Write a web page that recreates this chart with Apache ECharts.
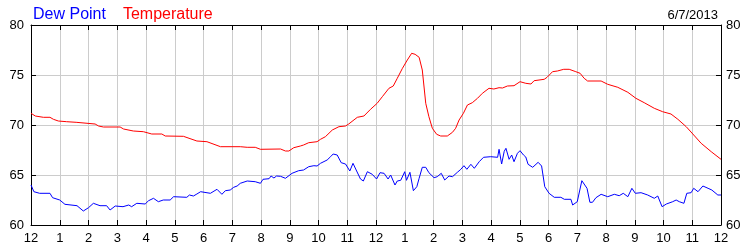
<!DOCTYPE html>
<html>
<head>
<meta charset="utf-8">
<script src="https://cdn.jsdelivr.net/npm/echarts@6/dist/echarts.min.js"></script>
<style>html,body{margin:0;padding:0;background:#fff}#c{width:750px;height:250px}</style>
</head>
<body>
<div id="c"></div>
<script>
var xTickLabels = ['12','1','2','3','4','5','6','7','8','9','10','11','12','1','2','3','4','5','6','7','8','9','10','11','12'];
var yTicks = [60, 65, 70, 75, 80];
var dateLabel = '6/7/2013';

var tempHours = [0,0.15,0.43,0.66,0.78,0.95,1.24,1.57,1.62,2.23,2.35,2.52,3.1,3.22,3.56,3.91,4.2,4.55,4.67,5.3,5.77,6.12,6.59,7.28,7.52,7.8,7.98,8.68,8.85,8.97,9.14,9.37,9.48,9.66,9.95,10.07,10.24,10.48,10.71,10.94,11.05,11.35,11.58,11.81,12.04,12.22,12.45,12.6,12.74,12.92,13.09,13.24,13.36,13.5,13.61,13.73,13.84,13.96,14.11,14.25,14.48,14.66,14.77,14.89,15.04,15.18,15.35,15.53,15.7,15.93,16.1,16.28,16.4,16.57,16.8,17.01,17.21,17.39,17.5,17.85,17.95,18.14,18.31,18.53,18.72,18.95,19.1,19.24,19.36,19.83,20.06,20.41,20.76,21.04,21.33,21.68,21.97,22.26,22.5,22.79,23.02,23.31,23.66,24];
var tempValues = [71.17,70.9,70.77,70.77,70.57,70.4,70.33,70.27,70.1,70.1,69.9,69.8,69.8,69.6,69.4,69.33,69.1,69.1,68.9,68.87,68.4,68.33,67.83,67.83,67.77,67.77,67.57,67.6,67.4,67.4,67.73,67.9,68.0,68.23,68.33,68.57,68.83,69.5,69.83,69.9,70.1,70.77,70.9,71.57,72.17,72.83,73.67,73.9,74.67,75.67,76.5,77.17,77.07,76.77,75.5,72.17,70.83,69.67,69.07,68.9,68.9,69.27,69.67,70.5,71.17,72.0,72.23,72.67,73.17,73.67,73.6,73.73,73.7,73.9,73.93,74.33,74.17,74.1,74.43,74.57,74.77,75.33,75.4,75.57,75.57,75.33,75.17,74.67,74.4,74.4,74.07,73.77,73.27,72.67,72.23,71.67,71.33,71.1,70.57,69.83,69.1,68.17,67.33,66.57];

var dewHours = [0,0.1,0.3,0.66,0.75,1.0,1.18,1.6,1.82,2.0,2.17,2.4,2.63,2.75,2.93,3.2,3.4,3.5,3.68,3.97,4.09,4.26,4.43,4.6,4.84,4.96,5.42,5.51,5.65,5.77,5.9,6.24,6.47,6.64,6.76,6.93,7.05,7.17,7.28,7.52,7.8,7.98,8.07,8.28,8.35,8.45,8.54,8.68,8.85,9.08,9.31,9.48,9.66,9.84,9.95,10.07,10.3,10.42,10.51,10.65,10.79,10.94,11.09,11.2,11.31,11.46,11.56,11.7,11.87,12.02,12.14,12.28,12.42,12.51,12.66,12.74,12.86,13.0,13.06,13.18,13.3,13.42,13.5,13.61,13.73,13.84,14.02,14.13,14.27,14.39,14.54,14.66,14.83,14.95,15.06,15.16,15.3,15.42,15.59,15.74,15.99,16.23,16.28,16.37,16.46,16.52,16.63,16.72,16.8,16.92,17.01,17.13,17.21,17.29,17.45,17.64,17.76,17.87,18.02,18.2,18.43,18.55,18.78,18.84,19.0,19.16,19.34,19.44,19.53,19.65,19.83,20.06,20.29,20.46,20.6,20.76,20.9,21.02,21.22,21.45,21.68,21.8,21.95,22.1,22.32,22.44,22.55,22.71,22.81,22.96,23.05,23.2,23.37,23.55,23.68,23.89,24];
var dewValues = [64.0,63.33,63.17,63.17,62.73,62.5,62.07,61.93,61.4,61.73,62.17,61.93,61.93,61.5,61.9,61.83,62.0,61.83,62.17,62.1,62.43,62.67,62.33,62.5,62.5,62.83,62.77,63.0,62.9,63.1,63.33,63.17,63.57,63.07,63.43,63.5,63.77,63.9,64.17,64.4,64.33,64.17,64.57,64.63,64.9,64.7,64.9,64.87,64.67,65.17,65.43,65.5,65.83,65.93,65.9,66.17,66.5,66.83,67.1,67.0,66.23,66.1,65.4,66.17,65.5,64.6,64.4,65.33,65.07,64.6,65.23,65.17,64.6,65.0,64.0,64.4,64.47,65.33,64.47,65.27,63.43,63.83,64.67,65.77,65.77,65.23,64.73,64.83,65.17,64.5,64.9,64.83,65.27,65.57,65.93,65.57,66.07,65.67,66.33,66.77,66.83,66.77,67.57,66.1,67.37,67.67,66.57,67.0,66.33,67.17,67.43,67.0,66.8,66.07,65.77,66.27,65.9,63.83,63.17,62.77,62.77,62.57,62.57,62.0,62.33,64.43,63.67,62.27,62.27,62.73,63.07,62.83,63.07,62.93,63.17,62.83,63.67,63.17,63.23,63.0,62.67,62.9,61.83,62.1,62.33,62.5,62.33,62.17,63.17,63.23,63.67,63.33,63.9,63.67,63.5,63.0,63.0];

function zip(a, b) { return a.map(function (v, i) { return [v, b[i]]; }); }

var FONT = 'Liberation Sans, Arial, sans-serif';
var yMin = yTicks[0], yMax = yTicks[yTicks.length - 1], yStep = yTicks[1] - yTicks[0];

function xAxisCfg(pos, labels, split) {
  return {
    type: 'value', min: 0, max: xTickLabels.length - 1, interval: 1, position: pos,
    axisLine: { show: true, onZero: false, lineStyle: { color: '#000', width: 1 } },
    axisTick: { show: true, inside: true, length: 5, lineStyle: { color: '#000' } },
    axisLabel: { show: labels, margin: 7, color: '#000', fontSize: 13, fontFamily: FONT,
      formatter: function (v) { return xTickLabels[Math.round(v)]; } },
    splitLine: { show: split, lineStyle: { color: '#cccccc', width: 1 } }
  };
}
function yAxisCfg(pos, split, margin) {
  return {
    type: 'value', min: yMin, max: yMax, interval: yStep, position: pos,
    axisLine: { show: true, onZero: false, lineStyle: { color: '#000', width: 1 } },
    axisTick: { show: true, inside: true, length: 5, lineStyle: { color: '#000' } },
    axisLabel: { show: true, margin: margin, color: '#000', fontSize: 13, fontFamily: FONT },
    splitLine: { show: split, lineStyle: { color: '#cccccc', width: 1 } }
  };
}

var chart = echarts.init(document.getElementById('c'), null, { renderer: 'canvas' });
chart.setOption({
  animation: false,
  backgroundColor: '#fff',
  title: {
    text: dateLabel, right: 27, top: 4,
    textStyle: { fontSize: 13, fontWeight: 'normal', color: '#000', fontFamily: FONT }
  },
  legend: {
    left: 23, top: 2, itemWidth: 0, itemHeight: 0, itemGap: 12, icon: 'rect',
    textStyle: { fontSize: 16, fontFamily: FONT },
    data: [
      { name: 'Dew Point', textStyle: { color: '#0000ff' } },
      { name: 'Temperature', textStyle: { color: '#ff0000' } }
    ]
  },
  grid: { left: 31, right: 29, top: 25, bottom: 25, containLabel: false },
  xAxis: [xAxisCfg('bottom', true, true), xAxisCfg('top', false, false)],
  yAxis: [yAxisCfg('left', true, 7), yAxisCfg('right', false, 5)],
  series: [
    { name: 'Dew Point', type: 'line', xAxisIndex: 0, yAxisIndex: 0, showSymbol: false,
      data: zip(dewHours, dewValues), lineStyle: { color: '#0000ff', width: 1 }, itemStyle: { color: '#0000ff' } },
    { name: 'Temperature', type: 'line', xAxisIndex: 0, yAxisIndex: 0, showSymbol: false,
      data: zip(tempHours, tempValues), lineStyle: { color: '#ff0000', width: 1 }, itemStyle: { color: '#ff0000' } }
  ]
});
</script>
</body>
</html>
